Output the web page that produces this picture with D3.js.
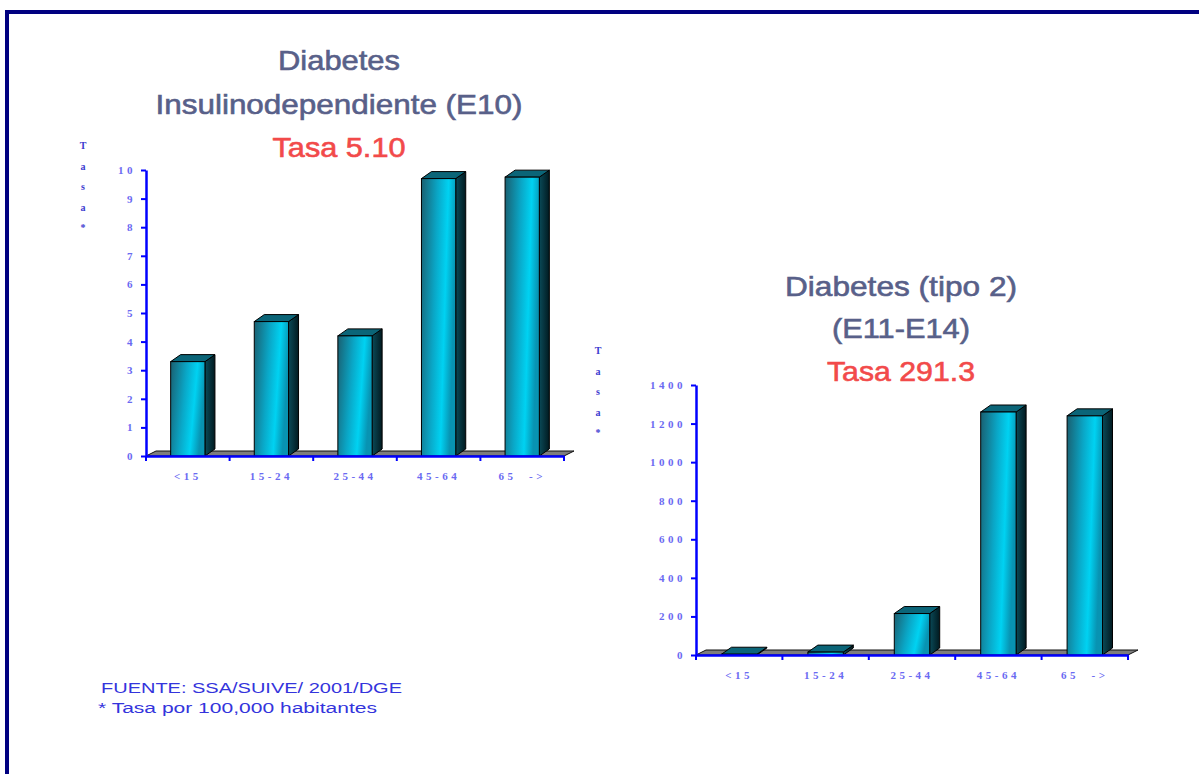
<!DOCTYPE html>
<html>
<head>
<meta charset="utf-8">
<script src="https://cdn.jsdelivr.net/npm/d3@7"></script>
<style>
  body { margin: 0; background: #fff; }
  svg { display: block; }
</style>
</head>
<body>
<div id="chart"></div>
<script>
// age groups shared by both charts
var categories = ["<15", "15-24", "25-44", "45-64", "65 ->"];
var categoryLabels = ["<15", "15-24", "25-44", "45-64", "65  ->"];

// Diabetes insulinodependiente (E10), tasa por 100,000
var e10Values = [3.3, 4.7, 4.2, 9.7, 9.75];
var e10Ticks = [0, 1, 2, 3, 4, 5, 6, 7, 8, 9, 10];

// Diabetes tipo 2 (E11-E14)
var e11Values = [4, 15, 215, 1260, 1240];
var e11Ticks = [0, 200, 400, 600, 800, 1000, 1200, 1400];

var e10Title = ["Diabetes", "Insulinodependiente (E10)", "Tasa 5.10"];
var e11Title = ["Diabetes (tipo 2)", "(E11-E14)", "Tasa 291.3"];
var yLetters = ["T", "a", "s", "a", "*"];
var footer = ["FUENTE: SSA/SUIVE/ 2001/DGE", "* Tasa por 100,000 habitantes"];

var width = 1199, height = 774;
var depthX = 10, depthY = -7;

var svg = d3.select("#chart").append("svg")
    .attr("width", width)
    .attr("height", height);

var defs = svg.append("defs");

var front = defs.append("linearGradient")
    .attr("id", "barFront")
    .attr("x1", "0%").attr("y1", "0%")
    .attr("x2", "100%").attr("y2", "25%");
front.append("stop").attr("offset", "0%").attr("stop-color", "#1a5f70");
front.append("stop").attr("offset", "45%").attr("stop-color", "#0aa6c6");
front.append("stop").attr("offset", "75%").attr("stop-color", "#00d2f2");
front.append("stop").attr("offset", "100%").attr("stop-color", "#0893b2");

var side = defs.append("linearGradient")
    .attr("id", "barSide")
    .attr("x1", "0%").attr("y1", "0%")
    .attr("x2", "100%").attr("y2", "0%");
side.append("stop").attr("offset", "0%").attr("stop-color", "#0a4a58");
side.append("stop").attr("offset", "100%").attr("stop-color", "#011a20");

// frame
svg.append("rect")
    .attr("x", 7).attr("y", 12)
    .attr("width", 1400).attr("height", 900)
    .attr("fill", "none")
    .attr("stroke", "#000080")
    .attr("stroke-width", 4);

function drawChart(cfg) {
    var g = svg.append("g");

    var x = d3.scaleBand()
        .domain(categories)
        .range([cfg.left, cfg.right])
        .paddingInner(0.59)
        .paddingOuter(0.295);

    var y = d3.scaleLinear()
        .domain([0, d3.max(cfg.ticks)])
        .range([cfg.bottom, cfg.top]);

    var base = y(0);

    // titles
    cfg.title.forEach(function(t, i) {
        var col = i == 2 ? "#f24a4a" : "#586089";
        g.append("text")
            .attr("x", cfg.titleX)
            .attr("y", cfg.titleY[i])
            .attr("text-anchor", "middle")
            .attr("textLength", cfg.titleW[i])
            .attr("lengthAdjust", "spacingAndGlyphs")
            .style("font-family", "Liberation Sans, Arial, sans-serif")
            .style("font-size", "28px")
            .style("fill", col)
            .style("stroke", col)
            .style("stroke-width", 0.6)
            .text(t);
    });

    // vertical "Tasa*"
    yLetters.forEach(function(l, i) {
        g.append("text")
            .attr("x", cfg.letterX)
            .attr("y", cfg.letterY + i * 20.5)
            .attr("text-anchor", "middle")
            .style("font-family", "Liberation Serif, serif")
            .style("font-weight", "bold")
            .style("font-size", "10px")
            .style("fill", "#3b3bd0")
            .text(l);
    });

    // floor
    var fl = [[cfg.left, base], [cfg.left + depthX, base - 5],
              [cfg.right + depthX, base - 5], [cfg.right, base]];
    g.append("path")
        .attr("d", d3.line()(fl) + "Z")
        .attr("fill", "#7d7d7d")
        .attr("stroke", "#111")
        .attr("stroke-width", 1);

    // bars: side, top, front
    var bars = g.selectAll(".bar")
        .data(cfg.values)
        .enter().append("g")
        .attr("class", "bar");

    bars.append("path")
        .attr("d", function(d, i) {
            var x1 = x(categories[i]) + x.bandwidth(), yt = y(d);
            return d3.line()([[x1, yt], [x1 + depthX, yt + depthY],
                [x1 + depthX, base + depthY], [x1, base]]) + "Z";
        })
        .attr("fill", "url(#barSide)")
        .attr("stroke", "#000")
        .attr("stroke-width", 1);

    bars.append("path")
        .attr("d", function(d, i) {
            var x0 = x(categories[i]), x1 = x0 + x.bandwidth(), yt = y(d);
            return d3.line()([[x0, yt], [x0 + depthX, yt + depthY],
                [x1 + depthX, yt + depthY], [x1, yt]]) + "Z";
        })
        .attr("fill", "#0b6578")
        .attr("stroke", "#000")
        .attr("stroke-width", 1);

    bars.append("rect")
        .attr("x", function(d, i) { return x(categories[i]); })
        .attr("y", function(d) { return y(d); })
        .attr("width", x.bandwidth())
        .attr("height", function(d) { return base - y(d); })
        .attr("fill", "url(#barFront)")
        .attr("stroke", "#000")
        .attr("stroke-width", 1);

    // y axis
    var yAxis = g.append("g")
        .attr("transform", "translate(" + cfg.left + ",0)")
        .call(d3.axisLeft(y).tickValues(cfg.ticks).tickFormat(d3.format("d"))
            .tickSize(5).tickPadding(5).tickSizeOuter(0));
    yAxis.select(".domain").attr("stroke", "#0000ff").attr("stroke-width", 2.5);
    yAxis.selectAll(".tick line").attr("stroke", "#0000ff").attr("stroke-width", 2);
    yAxis.selectAll(".tick text")
        .style("font-family", "Liberation Serif, serif")
        .style("font-weight", "bold")
        .style("font-size", "11px")
        .style("letter-spacing", "3.5px")
        .style("fill", "#6a6af2");

    // x axis, ticks at the band edges
    var xAxis = g.append("g")
        .attr("transform", "translate(0," + base + ")")
        .call(d3.axisBottom(x).tickSize(0).tickPadding(16).tickFormat(function(d, i) { return categoryLabels[i]; }));
    xAxis.select(".domain").attr("stroke", "#0000ff").attr("stroke-width", 2.5);
    xAxis.selectAll(".tick text")
        .attr("xml:space", "preserve")
        .style("white-space", "pre")
        .style("font-family", "Liberation Serif, serif")
        .style("font-weight", "bold")
        .style("font-size", "11px")
        .style("letter-spacing", "3.5px")
        .style("fill", "#6a6af2");

    var edges = categories.map(function(c) { return x(c) + x.bandwidth() / 2 - x.step() / 2; });
    edges.push(cfg.right);
    xAxis.selectAll(".edge")
        .data(edges)
        .enter().append("line")
        .attr("class", "edge")
        .attr("x1", function(d) { return d; })
        .attr("x2", function(d) { return d; })
        .attr("y1", 0).attr("y2", 5)
        .attr("stroke", "#0000ff")
        .attr("stroke-width", 2);
}

drawChart({
    values: e10Values, ticks: e10Ticks, title: e10Title,
    left: 146, right: 564, top: 170, bottom: 456,
    titleX: 339, titleY: [70, 114, 157], titleW: [122, 367, 133],
    letterX: 83, letterY: 149
});

drawChart({
    values: e11Values, ticks: e11Ticks, title: e11Title,
    left: 696, right: 1128, top: 385, bottom: 655,
    titleX: 901, titleY: [296, 338, 381], titleW: [232, 138, 148],
    letterX: 598, letterY: 354
});

// source note
footer.forEach(function(t, i) {
    svg.append("text")
        .attr("x", i == 0 ? 101 : 98)
        .attr("y", 693 + i * 20)
        .attr("textLength", i == 0 ? 301 : 279)
        .attr("lengthAdjust", "spacingAndGlyphs")
        .style("font-family", "Liberation Sans, Arial, sans-serif")
        .style("font-size", "14px")
        .style("fill", "#3434dc")
        .text(t);
});
</script>
</body>
</html>
